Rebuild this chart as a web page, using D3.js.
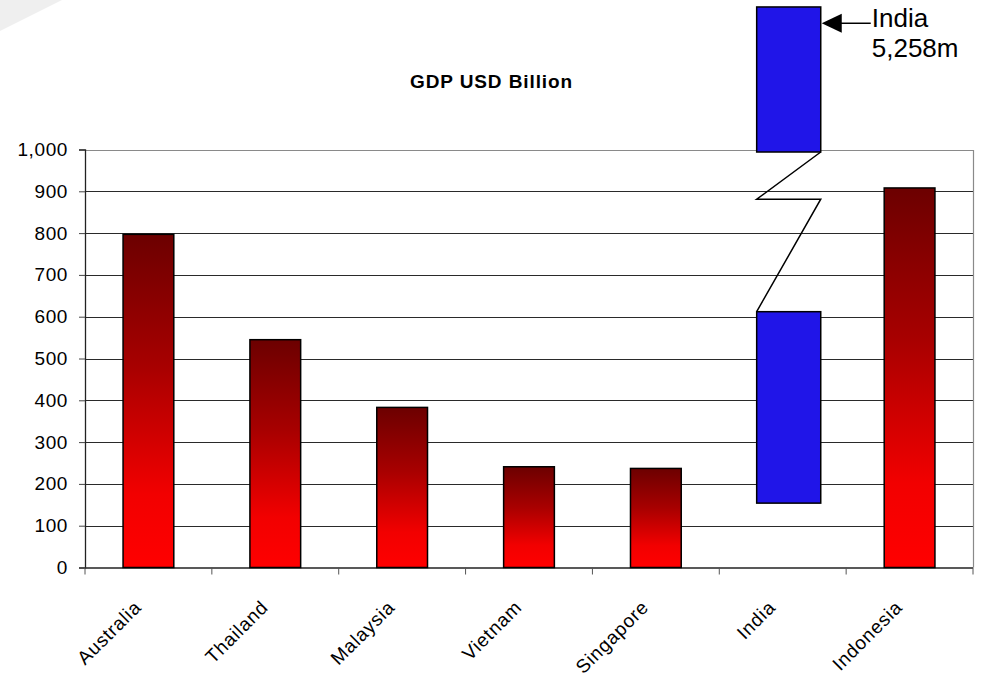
<!DOCTYPE html>
<html>
<head>
<meta charset="utf-8">
<script src="https://cdn.jsdelivr.net/npm/d3@7"></script>
<style>
  html, body { margin: 0; padding: 0; background: #fff; }
  svg { display: block; }
  text { font-family: "Liberation Sans", Arial, sans-serif; fill: #000; }
</style>
</head>
<body>
<svg id="chart" width="981" height="678"></svg>
<script>
// GDP by country, USD billion
const categories = ["Australia", "Thailand", "Malaysia", "Vietnam", "Singapore", "India", "Indonesia"];
const gdp = [797, 545, 383, 241, 237, null, 908];
const yTicks = [0, 100, 200, 300, 400, 500, 600, 700, 800, 900, 1000];

// India is off the scale: drawn as a broken bar (axis units)
const indiaLower = [154, 612];
const indiaUpper = [994, 1341];
const indiaBreak = [994, 881, 881, 612];
const indiaArrowAt = 1302;
const indiaLabel = ["India", "5,258m"];

const title = "GDP USD Billion";

const svg = d3.select("#chart");
const plotL = 85, plotR = 973, plotT = 149.5, plotB = 567.5;

const x = d3.scaleBand().domain(categories).range([plotL, plotR]).padding(0);
const y = d3.scaleLinear().domain([0, 1000]).range([plotB, plotT]);
const barW = x.bandwidth() * 0.4;

// faint corner shading
svg.append("path")
  .attr("d", "M0,0 L62,0 L0,31 Z")
  .attr("fill", "#efefef");

// bar gradient: dark maroon at the top to bright red at the base
const defs = svg.append("defs");
const grad = defs.append("linearGradient")
  .attr("id", "redGrad")
  .attr("x1", 0).attr("y1", 0).attr("x2", 0).attr("y2", 1);
grad.append("stop").attr("offset", "0%").attr("stop-color", "#6c0000");
grad.append("stop").attr("offset", "40%").attr("stop-color", "#a80000");
grad.append("stop").attr("offset", "78%").attr("stop-color", "#f20000");
grad.append("stop").attr("offset", "100%").attr("stop-color", "#ff0000");

// gridlines
svg.append("g")
  .selectAll("line")
  .data(yTicks.filter(d => d > 0 && d < 1000))
  .join("line")
  .attr("x1", plotL).attr("x2", plotR)
  .attr("y1", d => Math.round(y(d)) + 0.5).attr("y2", d => Math.round(y(d)) + 0.5)
  .attr("stroke", "#2a2a2a").attr("stroke-width", 1);

// plot frame (top and right)
svg.append("path")
  .attr("d", `M${plotL},${Math.round(plotT) + 0.5} H${plotR + 0.5} V${plotB}`)
  .attr("fill", "none").attr("stroke", "#8a8a8a").attr("stroke-width", 1.2);

// y axis
const yAxis = d3.axisLeft(y)
  .tickValues(yTicks)
  .tickSize(6)
  .tickPadding(11)
  .tickFormat(d3.format(","));
const gy = svg.append("g")
  .attr("transform", `translate(${plotL},0)`)
  .call(yAxis);
gy.select(".domain").attr("stroke", "#222").attr("stroke-width", 1.3);
gy.selectAll(".tick line").attr("stroke", "#444");
gy.selectAll(".tick text")
  .style("font-family", '"Liberation Sans", Arial, sans-serif')
  .style("font-size", "19px")
  .style("letter-spacing", "0.6px")
  .attr("fill", "#000");

// x axis with ticks on category boundaries
const gx = svg.append("g").attr("transform", `translate(0,${plotB})`);
gx.append("line")
  .attr("x1", plotL).attr("x2", plotR)
  .attr("y1", 0.5).attr("y2", 0.5)
  .attr("stroke", "#222").attr("stroke-width", 1.3);
gx.selectAll("line.tick")
  .data(categories.map(c => x(c)).concat([plotR]))
  .join("line")
  .attr("class", "tick")
  .attr("x1", d => d).attr("x2", d => d)
  .attr("y1", 0).attr("y2", 7)
  .attr("stroke", "#555");
gx.selectAll("text")
  .data(categories)
  .join("text")
  .attr("transform", d => `translate(${x(d) + x.bandwidth() / 2 - 6},${41}) rotate(-45)`)
  .attr("text-anchor", "end")
  .style("font-size", "19px")
  .style("letter-spacing", "0.8px")
  .text(d => d);

// red bars
const barData = categories.map((c, i) => ({ c, v: gdp[i] })).filter(d => d.v != null);
svg.append("g")
  .selectAll("rect")
  .data(barData)
  .join("rect")
  .attr("x", d => x(d.c) + (x.bandwidth() - barW) / 2)
  .attr("y", d => y(d.v))
  .attr("width", barW)
  .attr("height", d => y(0) - y(d.v))
  .attr("fill", "url(#redGrad)")
  .attr("stroke", "#000").attr("stroke-width", 1.5);

// India broken bar
const indiaW = x.bandwidth() * 0.505;
const indiaX = x("India") + x.bandwidth() / 2 + 6 - indiaW / 2;
const gi = svg.append("g");
[indiaLower, indiaUpper].forEach(([lo, hi]) => {
  gi.append("rect")
    .attr("x", indiaX).attr("y", y(hi))
    .attr("width", indiaW).attr("height", y(lo) - y(hi))
    .attr("fill", "#2015e8")
    .attr("stroke", "#000").attr("stroke-width", 1.5);
});
const breakX = [indiaX + indiaW, indiaX, indiaX + indiaW, indiaX];
gi.append("path")
  .attr("d", d3.line()(indiaBreak.map((v, i) => [breakX[i], y(v)])))
  .attr("fill", "none").attr("stroke", "#000").attr("stroke-width", 1.5);

// callout arrow and label
const ay = y(indiaArrowAt);
const tipX = indiaX + indiaW + 1;
gi.append("path")
  .attr("d", `M${tipX},${ay} L${tipX + 20},${ay - 9.5} L${tipX + 20},${ay + 9.5} Z`)
  .attr("fill", "#000");
gi.append("line")
  .attr("x1", tipX + 18).attr("x2", tipX + 49)
  .attr("y1", ay).attr("y2", ay)
  .attr("stroke", "#000").attr("stroke-width", 1.5);
gi.append("text")
  .attr("x", tipX + 50).attr("y", ay + 3.5)
  .style("font-size", "26px")
  .selectAll("tspan")
  .data(indiaLabel)
  .join("tspan")
  .attr("x", tipX + 50)
  .attr("dy", (d, i) => i === 0 ? 0 : 30.5)
  .text(d => d);

// title
svg.append("text")
  .attr("x", 491.5).attr("y", 88.3)
  .attr("text-anchor", "middle")
  .style("font-size", "19px")
  .style("font-weight", "bold")
  .style("letter-spacing", "0.9px")
  .text(title);
</script>
</body>
</html>
